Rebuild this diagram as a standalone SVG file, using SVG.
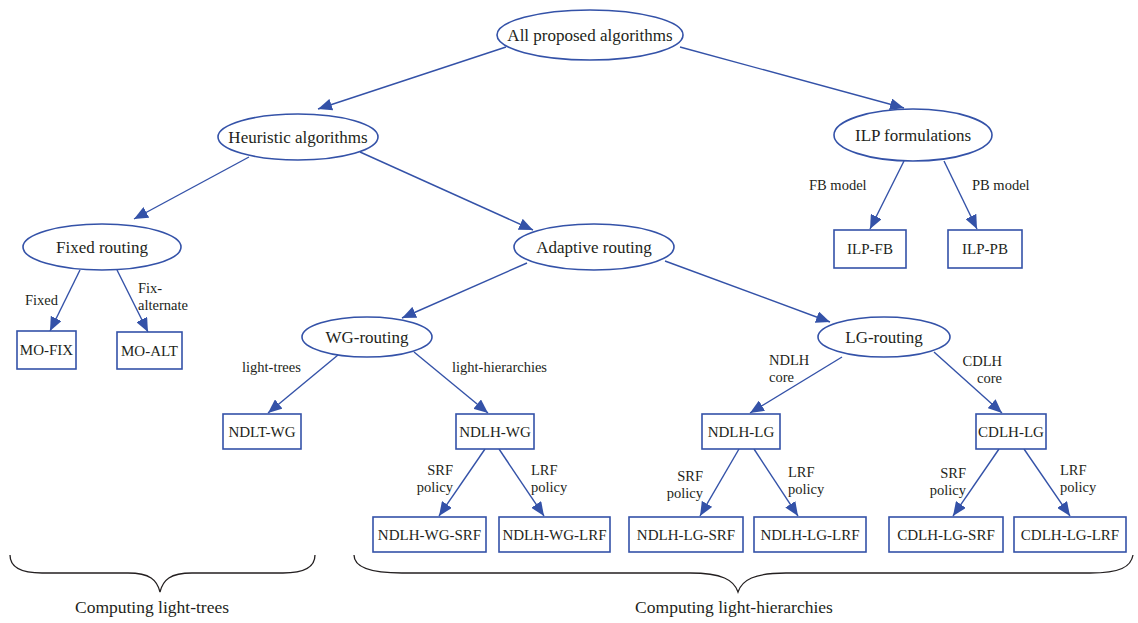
<svg xmlns="http://www.w3.org/2000/svg" width="1138" height="623" viewBox="0 0 1138 623">
<style>
.el{fill:#fff;stroke:#3452a8;stroke-width:1.6}
.bx{fill:#fff;stroke:#3452a8;stroke-width:1.6}
.ed{stroke:#3452a8;stroke-width:1.4;fill:none;marker-end:url(#ah)}
.t{font-family:"Liberation Serif","Times New Roman",serif;fill:#231f20}
.t17{font-size:17px;text-anchor:middle}
.t15{font-size:15px;text-anchor:middle}
.lb{font-size:14.5px}
.br{fill:none;stroke:#231f20;stroke-width:1.3}
</style>
<defs>
<marker id="ah" markerUnits="userSpaceOnUse" markerWidth="14" markerHeight="12" refX="14" refY="6" orient="auto">
<path d="M0,0 L14,6 L0,12 z" fill="#3452a8"/>
</marker>
</defs>
<rect width="1138" height="623" fill="#fff"/>
<g id="connectors">
<line class="ed" x1="506" y1="47" x2="318" y2="109"/>
<line class="ed" x1="680" y1="47" x2="904" y2="108"/>
<line class="ed" x1="249" y1="157" x2="134" y2="219"/>
<line class="ed" x1="360" y1="152" x2="533" y2="230"/>
<line class="ed" x1="80" y1="270" x2="50" y2="331"/>
<line class="ed" x1="117" y1="270" x2="148" y2="332"/>
<line class="ed" x1="904" y1="161" x2="870" y2="229"/>
<line class="ed" x1="944" y1="161" x2="977" y2="229"/>
<line class="ed" x1="527" y1="263" x2="402" y2="318"/>
<line class="ed" x1="665" y1="261" x2="830" y2="322"/>
<line class="ed" x1="338" y1="355" x2="268" y2="413"/>
<line class="ed" x1="414" y1="352" x2="488" y2="413"/>
<line class="ed" x1="842" y1="357" x2="750" y2="413"/>
<line class="ed" x1="934" y1="352" x2="1002" y2="413"/>
<line class="ed" x1="485" y1="449" x2="439" y2="516"/>
<line class="ed" x1="499" y1="449" x2="544" y2="516"/>
<line class="ed" x1="739" y1="449" x2="700" y2="516"/>
<line class="ed" x1="754" y1="449" x2="798" y2="516"/>
<line class="ed" x1="999" y1="449" x2="953" y2="516"/>
<line class="ed" x1="1024" y1="449" x2="1070" y2="516"/>
</g>
<g id="edge-labels" class="t lb">
<text x="25" y="305">Fixed</text>
<text x="138" y="293">Fix-</text>
<text x="138" y="310">alternate</text>
<text x="809" y="190">FB model</text>
<text x="972" y="190">PB model</text>
<text x="242" y="372">light-trees</text>
<text x="452" y="372">light-hierarchies</text>
<text x="769" y="365">NDLH</text>
<text x="769" y="382">core</text>
<text x="1002" y="366" text-anchor="end">CDLH</text>
<text x="1002" y="383" text-anchor="end">core</text>
<text x="453" y="475" text-anchor="end">SRF</text>
<text x="453" y="492" text-anchor="end">policy</text>
<text x="531" y="475">LRF</text>
<text x="531" y="492">policy</text>
<text x="703" y="481" text-anchor="end">SRF</text>
<text x="703" y="498" text-anchor="end">policy</text>
<text x="788" y="477">LRF</text>
<text x="788" y="494">policy</text>
<text x="966" y="478" text-anchor="end">SRF</text>
<text x="966" y="495" text-anchor="end">policy</text>
<text x="1060" y="475">LRF</text>
<text x="1060" y="492">policy</text>
</g>
<g id="n-root"><ellipse class="el" cx="590" cy="35" rx="93" ry="25"/><text class="t t17" x="590" y="41">All proposed algorithms</text></g>
<g id="n-heuristic"><ellipse class="el" cx="298" cy="137" rx="80" ry="23"/><text class="t t17" x="298" y="143">Heuristic algorithms</text></g>
<g id="n-ilp"><ellipse class="el" cx="913" cy="135" rx="79" ry="26"/><text class="t t17" x="913" y="141">ILP formulations</text></g>
<g id="n-fixed"><ellipse class="el" cx="102" cy="247" rx="79" ry="23"/><text class="t t17" x="102" y="253">Fixed routing</text></g>
<g id="n-adaptive"><ellipse class="el" cx="594" cy="247" rx="80" ry="23"/><text class="t t17" x="594" y="253">Adaptive routing</text></g>
<g id="n-wg"><ellipse class="el" cx="367" cy="337" rx="65" ry="20"/><text class="t t17" x="367" y="343">WG-routing</text></g>
<g id="n-lg"><ellipse class="el" cx="884" cy="337" rx="66" ry="20"/><text class="t t17" x="884" y="343">LG-routing</text></g>
<g id="n-mofix"><rect class="bx" x="17" y="331" width="59" height="38"/><text class="t t15" x="46.5" y="355">MO-FIX</text></g>
<g id="n-moalt"><rect class="bx" x="117" y="332" width="65" height="37"/><text class="t t15" x="149.5" y="356">MO-ALT</text></g>
<g id="n-ilpfb"><rect class="bx" x="834" y="230" width="72" height="38"/><text class="t t15" x="870" y="254">ILP-FB</text></g>
<g id="n-ilppb"><rect class="bx" x="948" y="230" width="74" height="38"/><text class="t t15" x="985" y="254">ILP-PB</text></g>
<g id="n-ndltwg"><rect class="bx" x="223" y="414" width="78" height="35"/><text class="t t15" x="262" y="437">NDLT-WG</text></g>
<g id="n-ndlhwg"><rect class="bx" x="456" y="414" width="78" height="35"/><text class="t t15" x="495" y="437">NDLH-WG</text></g>
<g id="n-ndlhlg"><rect class="bx" x="702" y="414" width="78" height="35"/><text class="t t15" x="741" y="437">NDLH-LG</text></g>
<g id="n-cdlhlg"><rect class="bx" x="976" y="414" width="70" height="35"/><text class="t t15" x="1011" y="437">CDLH-LG</text></g>
<g id="n-ndlhwgsrf"><rect class="bx" x="373" y="517" width="113" height="35"/><text class="t t15" x="429.5" y="540">NDLH-WG-SRF</text></g>
<g id="n-ndlhwglrf"><rect class="bx" x="499" y="517" width="111" height="35"/><text class="t t15" x="554.5" y="540">NDLH-WG-LRF</text></g>
<g id="n-ndlhlgsrf"><rect class="bx" x="629" y="517" width="114" height="35"/><text class="t t15" x="686" y="540">NDLH-LG-SRF</text></g>
<g id="n-ndlhlglrf"><rect class="bx" x="754" y="517" width="112" height="35"/><text class="t t15" x="810" y="540">NDLH-LG-LRF</text></g>
<g id="n-cdlhlgsrf"><rect class="bx" x="889" y="517" width="114" height="35"/><text class="t t15" x="946" y="540">CDLH-LG-SRF</text></g>
<g id="n-cdlhlglrf"><rect class="bx" x="1014" y="517" width="112" height="35"/><text class="t t15" x="1070" y="540">CDLH-LG-LRF</text></g>
<g id="brace-trees">
<path class="br" d="M10,555 C10,567 20,573 42,573 L128,573 C150,573 157,580 160,592 C163,580 170,573 192,573 L283,573 C305,573 315,567 315,555"/>
<text class="t" font-size="17.5" text-anchor="middle" x="152" y="613">Computing light-trees</text>
</g>
<g id="brace-hier">
<path class="br" d="M354,555 C354,567 370,573 402,573 L690,573 C722,573 734,580 738,592 C742,580 754,573 786,573 L1090,573 C1120,573 1131,567 1133,555"/>
<text class="t" font-size="17.5" text-anchor="middle" x="734" y="613">Computing light-hierarchies</text>
</g>
</svg>
